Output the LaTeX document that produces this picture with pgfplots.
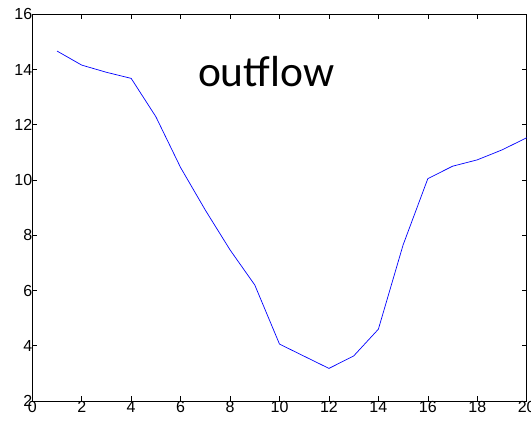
\documentclass[border=0pt]{standalone}
\usepackage{pgfplots}
\pgfplotsset{compat=1.18}
\usepackage{fontspec}
\setmainfont{Liberation Sans}
\newfontfamily\labelfont{Carlito}

\begin{document}
\begin{tikzpicture}
    % page = reference frame, axis box south west sits at the origin
    \useasboundingbox (-32.3bp,-21bp) rectangle (498.7bp,401bp);
    \begin{axis}[
        at={(0,0)}, anchor=south west,
        scale only axis,
        width=494.4bp, height=386.7bp,
        xmin=0, xmax=20,
        ymin=2, ymax=16,
        xtick={0,2,...,20},
        ytick={2,4,...,16},
        xticklabel={\pgfmathprintnumber{\tick}},
        yticklabel={\pgfmathprintnumber{\tick}},
        tick align=inside,
        tick pos=both,
        major tick length=5bp,
        axis line style={line width=0.6bp},
        tick style={line width=0.6bp, black},
        tick label style={font=\fontsize{16bp}{18bp}\selectfont},
        /pgf/number format/assume math mode=true,
        yticklabel style={xshift=3.5bp},
        xticklabel style={yshift=3bp},
    ]
        % outflow series
        \addplot[color=blue, line width=0.7bp] coordinates {
            (1,14.67) (2,14.16) (3,13.9) (4,13.68) (5,12.29) (6,10.45)
            (7,8.91) (8,7.47) (9,6.2) (10,4.06) (11,3.62) (12,3.18)
            (13,3.63) (14,4.6) (15,7.65) (16,10.05) (17,10.5) (18,10.73)
            (19,11.09) (20,11.53)
        };
        \node[anchor=base, inner sep=0pt, font=\labelfont\fontsize{43.5bp}{48bp}\selectfont]
            at (axis cs:9.46,13.38) {outflow};
    \end{axis}
\end{tikzpicture}
\end{document}
